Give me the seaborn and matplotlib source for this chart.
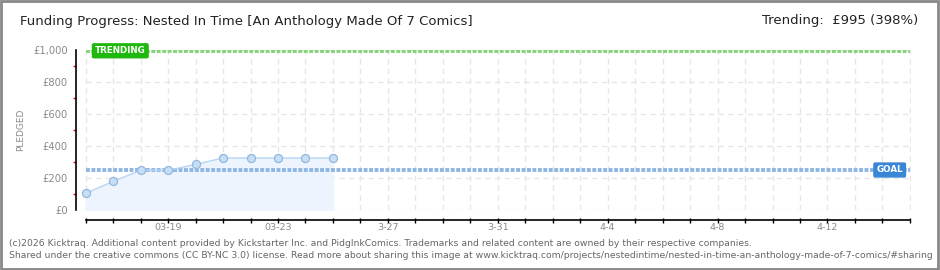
import matplotlib
matplotlib.use("Agg")
import matplotlib.pyplot as plt
import matplotlib.dates as mdates
import seaborn as sns
import pandas as pd
import numpy as np
from matplotlib.patches import Rectangle

# ---- data ----
dates = pd.date_range("2026-03-16", "2026-03-25", freq="D")
pledged = [104, 179, 248, 248, 285, 325, 325, 325, 325, 325]
goal = 250
trending = 995
xtick_dates = ["2026-03-19", "2026-03-23", "2026-03-27", "2026-03-31",
               "2026-04-04", "2026-04-08", "2026-04-12"]
xtick_labels = ["03-19", "03-23", "3-27", "3-31", "4-4", "4-8", "4-12"]
ytick_values = [0, 200, 400, 600, 800, 1000]
ytick_labels = ["£0", "£200", "£400", "£600", "£800", "£1,000"]
x_start = "2026-03-16"
x_end = "2026-04-15"

title = "Funding Progress: Nested In Time [An Anthology Made Of 7 Comics]"
trend_text = "Trending:  £995 (398%)"
footer1 = ("(c)2026 Kicktraq. Additional content provided by Kickstarter Inc. and PidgInkComics. "
           "Trademarks and related content are owned by their respective companies.")
footer2 = ("Shared under the creative commons (CC BY-NC 3.0) license. Read more about sharing this image at "
           "www.kicktraq.com/projects/nestedintime/nested-in-time-an-anthology-made-of-7-comics/#sharing")

df = pd.DataFrame({"date": dates, "pledged": pledged})

sns.set_theme(style="white")
plt.rcParams['font.family'] = ['DejaVu Sans']

fig = plt.figure(figsize=(9.4, 2.7), dpi=100)
ax = fig.add_axes([76/940, 60/270, (911-76)/940, 160/270])

xs = pd.Timestamp(x_start)
xe = pd.Timestamp(x_end)
ax.set_xlim(xs - pd.Timedelta(hours=8.5), xe + pd.Timedelta(hours=1))
ax.set_ylim(0, 1000)

# grid
for d in pd.date_range(xs, xe, freq="D"):
    ax.axvline(d, color="#e6e6e6", lw=1, ls=(0, (4, 3)), zorder=0)
for v in ytick_values:
    ax.hlines(v, xs, xe, color="#e6e6e6", lw=1, ls=(0, (4, 3)), zorder=0)

# area + line
ax.fill_between(df["date"], df["pledged"], 0, color="#edf4fd", zorder=1)
sns.lineplot(data=df, x="date", y="pledged", ax=ax, color="#b7d5f3", lw=1.0,
             marker="o", markersize=5.8, markerfacecolor="#c6def6",
             markeredgecolor="#94b8dd", markeredgewidth=0.9, zorder=3)

# goal & trending lines
ax.hlines(goal, xs, xe, color="#8fb6e3", lw=2.8, ls=(0, (1.0, 0.4)), zorder=2)
ax.hlines(trending, xs, xe, color="#86d47a", lw=2.8, ls=(0, (1.0, 0.4)), zorder=2)

# labels on lines
ax.text(xs + pd.Timedelta(hours=8), trending, "TRENDING", color="white", fontsize=6.3,
        fontweight="bold", va="center", ha="left", zorder=5,
        bbox=dict(boxstyle="round,pad=0.28,rounding_size=0.15", fc="#1fb80f", ec="#1fb80f"))
ax.text(xe - pd.Timedelta(hours=6), goal, "GOAL", color="white", fontsize=6.3,
        fontweight="bold", va="center", ha="right", zorder=5,
        bbox=dict(boxstyle="round,pad=0.28,rounding_size=0.15", fc="#3a86d6", ec="#3a86d6"))

# spines
for s in ["top", "right"]:
    ax.spines[s].set_visible(False)
ax.spines["left"].set_color("black")
ax.spines["left"].set_linewidth(1.2)
ax.spines["bottom"].set_color("black")
ax.spines["bottom"].set_linewidth(1.2)
ax.spines["bottom"].set_position(("outward", 7))
ax.spines["bottom"].set_bounds(mdates.date2num(xs), mdates.date2num(xe))

ax.set_yticks(ytick_values)
ax.set_yticklabels(ytick_labels, color="#8a8a8a", fontsize=7.2)
ax.set_yticks([100, 300, 500, 700, 900], minor=True)
ax.tick_params(axis="y", which="major", direction="out", length=2.4, width=1.2, color="black", pad=3.5)
ax.tick_params(axis="y", which="minor", direction="out", length=2.4, width=1, color="#dd0000", left=True)

ax.set_xticks([mdates.date2num(pd.Timestamp(d)) for d in xtick_dates])
ax.set_xticklabels(xtick_labels, color="#8a8a8a", fontsize=6.8)
ax.set_xticks([mdates.date2num(d) for d in pd.date_range(xs, xe, freq="D")], minor=True)
ax.tick_params(axis="x", which="both", direction="inout", length=3.6, width=1, color="black", pad=0.5, bottom=True)

ax.set_xlabel("")
ax.set_ylabel("PLEDGED", color="#8a8a8a", fontsize=6.5)
ax.yaxis.set_label_coords((25 - 76) / 835, 0.5)

# texts
fig.text(20/940, 1 - 22/270, title, fontsize=9.5, color="#222222", va="center", ha="left")
fig.text(918/940, 1 - 21/270, trend_text, fontsize=9.5, color="#222222", va="center", ha="right")
fig.text(9/940, 1 - 243/270, footer1, fontsize=6.7, color="#666666", va="center", ha="left")
fig.text(9/940, 1 - 256/270, footer2, fontsize=6.7, color="#666666", va="center", ha="left")

# border
fig.patches.append(Rectangle((0.001, 0.002), 0.997, 0.995, transform=fig.transFigure,
                             fill=False, ec="#888888", lw=2))

fig.savefig("out.png", dpi=100)
